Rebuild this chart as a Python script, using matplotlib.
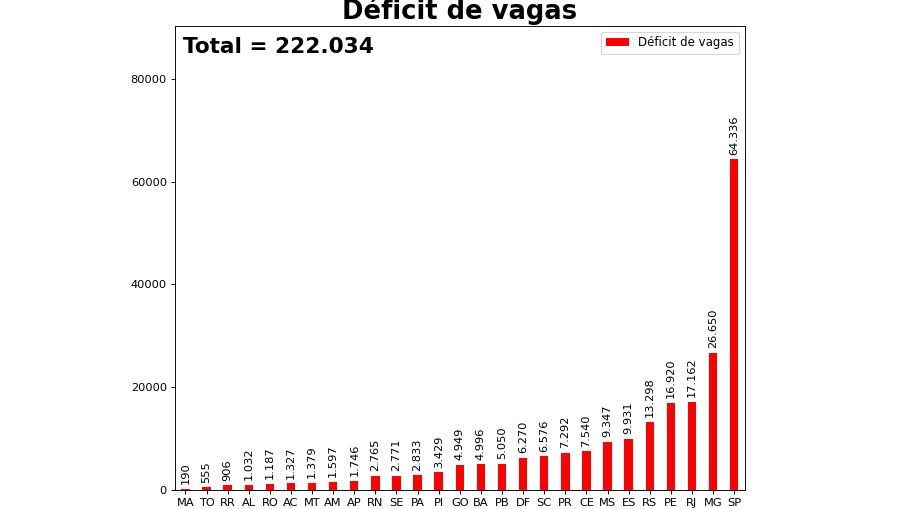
import matplotlib.pyplot as plt

estados = ['MA', 'TO', 'RR', 'AL', 'RO', 'AC', 'MT', 'AM', 'AP', 'RN', 'SE', 'PA', 'PI',
           'GO', 'BA', 'PB', 'DF', 'SC', 'PR', 'CE', 'MS', 'ES', 'RS', 'PE', 'RJ', 'MG', 'SP']
deficit = [190, 555, 906, 1032, 1187, 1327, 1379, 1597, 1746, 2765, 2771, 2833, 3429,
           4949, 4996, 5050, 6270, 6576, 7292, 7540, 9347, 9931, 13298, 16920, 17162, 26650, 64336]

def fmt(v):
    return f'{v:,}'.replace(',', '.')

dpi = 82
fig = plt.figure(figsize=(906 / dpi, 509 / dpi), dpi=dpi)
ax = fig.add_axes([0.193, 0.0373, 0.629, 0.912])
x = range(len(estados))
bars = ax.bar(x, deficit, width=0.4, color='red', label='Déficit de vagas')
ax.set_xticks(list(x))
ax.set_xticklabels(estados, rotation=0)
ax.set_xlim(-0.5, len(estados) - 0.5)
ax.set_ylim(0, 90300)
ax.set_yticks([0, 20000, 40000, 60000, 80000])

for b, v in zip(bars, deficit):
    ax.annotate(fmt(v), (b.get_x() + b.get_width() / 2, v), xytext=(0, 4),
                textcoords='offset points', ha='center', va='bottom', rotation=90, fontsize=10)

ax.text(0.015, 0.975, 'Total = ' + fmt(sum(deficit)), transform=ax.transAxes,
        fontsize=19, fontweight='bold', va='top', ha='left')
ax.legend(loc='upper right', fontsize=10.3)
ax.set_title('Déficit de vagas', fontsize=22.7, fontweight='bold')

plt.savefig('out.png', dpi=dpi)
